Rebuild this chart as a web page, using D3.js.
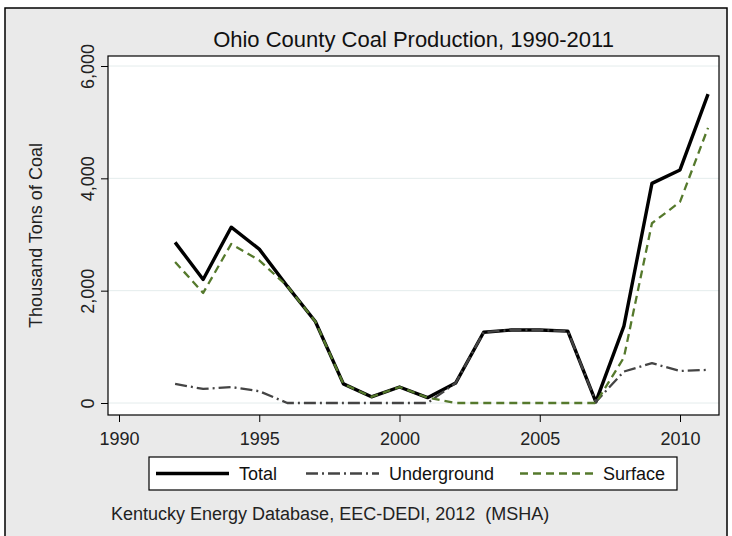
<!DOCTYPE html>
<html>
<head>
<meta charset="utf-8">
<script src="https://cdn.jsdelivr.net/npm/d3@7"></script>
<style>
  body { margin: 0; background: #fff; }
  svg { display: block; font-family: "Liberation Sans", Arial, sans-serif; }
</style>
</head>
<body>
<div id="chart"></div>
<script>
// values (thousand tons)
const years = [1992, 1993, 1994, 1995, 1996, 1997, 1998, 1999, 2000, 2001,
               2002, 2003, 2004, 2005, 2006, 2007, 2008, 2009, 2010, 2011];
const total = [2860, 2200, 3130, 2740, 2080, 1450, 340, 110, 285, 95,
               355, 1260, 1300, 1300, 1280, 20, 1370, 3910, 4150, 5500];
const underground = [340, 250, 285, 210, 0, 0, 0, 0, 0, 0,
                     355, 1260, 1300, 1300, 1280, 20, 560, 710, 570, 590];
const surface = [2510, 1960, 2830, 2540, 2080, 1450, 340, 110, 285, 95,
                 0, 0, 0, 0, 0, 0, 810, 3200, 3580, 4900];
const xTicks = [1990, 1995, 2000, 2005, 2010];
const yTicks = [0, 2000, 4000, 6000];

const width = 732, height = 536;
const plot = {left: 108, right: 719, top: 56, bottom: 415};

const svg = d3.select("#chart").append("svg")
    .attr("width", width)
    .attr("height", height);

// outer graph region (bottom edge falls off the picture)
svg.append("rect")
    .attr("x", 5).attr("y", 8)
    .attr("width", 722).attr("height", 540)
    .attr("fill", "#eaeaea")
    .attr("stroke", "#000")
    .attr("stroke-width", 1.5);

const x = d3.scaleLinear()
    .domain([1990, 2010])
    .range([119, 680]);

const y = d3.scaleLinear()
    .domain([0, 6000])
    .range([403, 66]);

// plot region
svg.append("rect")
    .attr("x", plot.left).attr("y", plot.top)
    .attr("width", plot.right - plot.left)
    .attr("height", plot.bottom - plot.top)
    .attr("fill", "#fff");

// gridlines
svg.append("g")
    .selectAll("line")
    .data(yTicks)
    .join("line")
    .attr("x1", plot.left).attr("x2", plot.right)
    .attr("y1", d => y(d)).attr("y2", d => y(d))
    .attr("stroke", "#e4ecec")
    .attr("stroke-width", 1);

svg.append("rect")
    .attr("x", plot.left).attr("y", plot.top)
    .attr("width", plot.right - plot.left)
    .attr("height", plot.bottom - plot.top)
    .attr("fill", "none")
    .attr("stroke", "#000")
    .attr("stroke-width", 1.2);

// y axis
const yAxis = svg.append("g")
    .attr("transform", `translate(${plot.left},0)`)
    .call(d3.axisLeft(y).tickValues(yTicks).tickSize(7).tickFormat(d3.format(",")));
yAxis.select(".domain").remove();
yAxis.selectAll(".tick line").attr("stroke", "#000");
yAxis.selectAll(".tick text")
    .attr("transform", "rotate(-90)")
    .attr("x", 0).attr("y", -14.5)
    .attr("dy", 0)
    .attr("text-anchor", "middle")
    .style("font-size", "18px")
    .style("fill", "#222");

// x axis
const xAxis = svg.append("g")
    .attr("transform", `translate(0,${plot.bottom})`)
    .call(d3.axisBottom(x).tickValues(xTicks).tickSize(7).tickFormat(d3.format("d")));
xAxis.select(".domain").remove();
xAxis.selectAll(".tick line").attr("stroke", "#000");
xAxis.selectAll(".tick text")
    .attr("y", 17)
    .style("font-size", "18px")
    .style("fill", "#222");

// titles
svg.append("text")
    .attr("x", (plot.left + plot.right) / 2).attr("y", 47)
    .attr("text-anchor", "middle")
    .style("font-size", "22px")
    .style("fill", "#111")
    .text("Ohio County Coal Production, 1990-2011");

svg.append("text")
    .attr("transform", `translate(41.5,${(plot.top + plot.bottom) / 2}) rotate(-90)`)
    .attr("text-anchor", "middle")
    .style("font-size", "18px")
    .style("fill", "#222")
    .text("Thousand Tons of Coal");

// series
const series = [
    {name: "Total", values: total, color: "#000", width: 3.4, dash: null},
    {name: "Underground", values: underground, color: "#444", width: 2.3, dash: "12,4,2,4"},
    {name: "Surface", values: surface, color: "#55792c", width: 2.3, dash: "8,5"}
];

const line = d3.line()
    .x((d, i) => x(years[i]))
    .y(d => y(d));

series.forEach(s => {
    svg.append("path")
        .datum(s.values)
        .attr("d", line)
        .attr("fill", "none")
        .attr("stroke", s.color)
        .attr("stroke-width", s.width)
        .attr("stroke-dasharray", s.dash)
        .attr("stroke-linejoin", "round");
});

// legend
const legend = svg.append("g").attr("transform", "translate(149,457)");
legend.append("rect")
    .attr("width", 528).attr("height", 33)
    .attr("fill", "#fff")
    .attr("stroke", "#000")
    .attr("stroke-width", 1.2);

const legendX = [7, 157, 371];
series.forEach((s, i) => {
    legend.append("line")
        .attr("x1", legendX[i]).attr("x2", legendX[i] + 73)
        .attr("y1", 16.5).attr("y2", 16.5)
        .attr("stroke", s.color)
        .attr("stroke-width", s.width)
        .attr("stroke-dasharray", s.dash);
    legend.append("text")
        .attr("x", legendX[i] + 83).attr("y", 23)
        .style("font-size", "18px")
        .style("fill", "#111")
        .text(s.name);
});

svg.append("text")
    .attr("x", 111).attr("y", 520)
    .style("font-size", "18px")
    .style("fill", "#222")
    .style("white-space", "pre")
    .text("Kentucky Energy Database, EEC-DEDI, 2012  (MSHA)");
</script>
</body>
</html>
